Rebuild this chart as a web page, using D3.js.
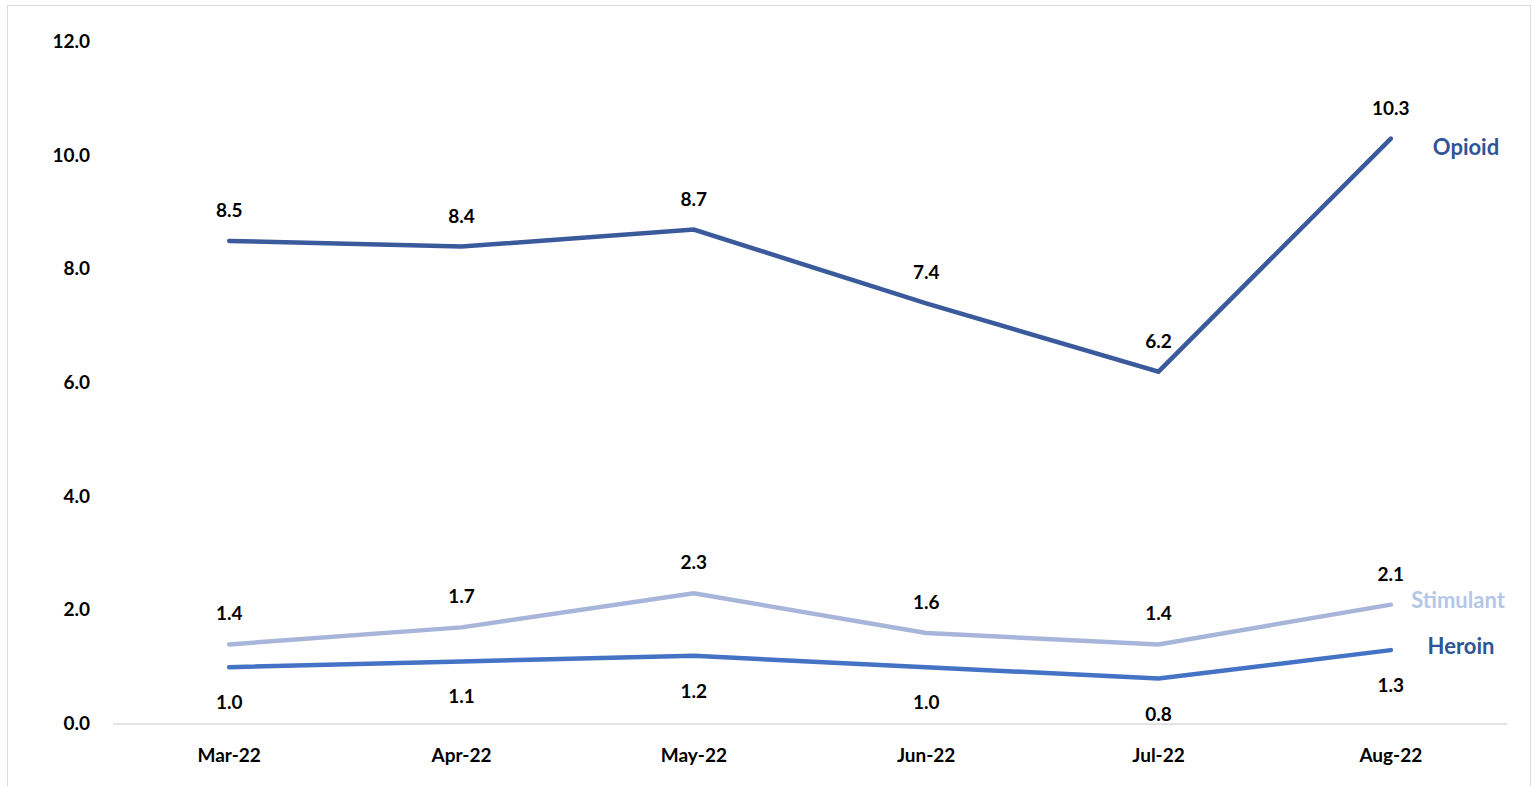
<!doctype html>
<html>
<head>
<style>
  body { margin: 0; overflow: hidden; background: #fff; }
  text { font-family: Lato, "Open Sans", sans-serif; font-weight: bold; }
</style>
</head>
<body>
<script src="https://cdn.jsdelivr.net/npm/d3@7"></script>
<script>
const months = ['Mar-22', 'Apr-22', 'May-22', 'Jun-22', 'Jul-22', 'Aug-22'];
const opioid = [8.5, 8.4, 8.7, 7.4, 6.2, 10.3];
const stimulant = [1.4, 1.7, 2.3, 1.6, 1.4, 2.1];
const heroin = [1.0, 1.1, 1.2, 1.0, 0.8, 1.3];
const yTicks = [0, 2, 4, 6, 8, 10, 12];

const series = [
  { name: 'Opioid', values: opioid, color: '#3A5A9C', text: '#2F5597', labelDy: -24, nameX: 1466, nameDy: 16 },
  { name: 'Stimulant', values: stimulant, color: '#A8B5DA', text: '#B4C7E7', labelDy: -24, nameX: 1458, nameDy: 3 },
  { name: 'Heroin', values: heroin, color: '#4472C4', text: '#2F5597', labelDy: 42, nameX: 1461, nameDy: 4 }
];

const width = 1535, height = 786;
const svg = d3.select('body').append('svg').attr('width', width).attr('height', height);

svg.append('rect').attr('x', 7.5).attr('y', 5.5).attr('width', 1523).attr('height', 785)
  .attr('fill', 'none').attr('stroke', '#d9d9d9');

const x = d3.scaleBand().domain(months).range([113, 1507]);
const y = d3.scaleLinear().domain([0, 12]).range([724, 42]);
const cx = d => x(d) + x.bandwidth() / 2;

svg.append('line').attr('x1', 113).attr('x2', 1507).attr('y1', y(0)).attr('y2', y(0))
  .attr('stroke', '#d9d9d9').attr('stroke-width', 1.5);

svg.selectAll('.ytick').data(yTicks).join('text')
  .attr('x', 90).attr('y', d => y(d) + 6).attr('text-anchor', 'end')
  .attr('font-size', 19).text(d => d.toFixed(1));

svg.selectAll('.xtick').data(months).join('text')
  .attr('x', cx).attr('y', 762).attr('text-anchor', 'middle')
  .attr('font-size', 19).text(d => d);

const line = d3.line().x((d, i) => cx(months[i])).y(d => y(d));

series.forEach(s => {
  svg.append('path').attr('d', line(s.values)).attr('fill', 'none')
    .attr('stroke', s.color).attr('stroke-width', 4.5).attr('stroke-linecap', 'round');
  svg.selectAll(null).data(s.values).join('text')
    .attr('x', (d, i) => cx(months[i])).attr('y', d => y(d) + s.labelDy)
    .attr('text-anchor', 'middle').attr('font-size', 19).attr('fill', '#000')
    .text(d => d.toFixed(1));
  const last = s.values[s.values.length - 1];
  svg.append('text').attr('x', s.nameX).attr('y', y(last) + s.nameDy)
    .attr('text-anchor', 'middle').attr('font-size', 22).attr('fill', s.text).text(s.name);
});
</script>
</body>
</html>
